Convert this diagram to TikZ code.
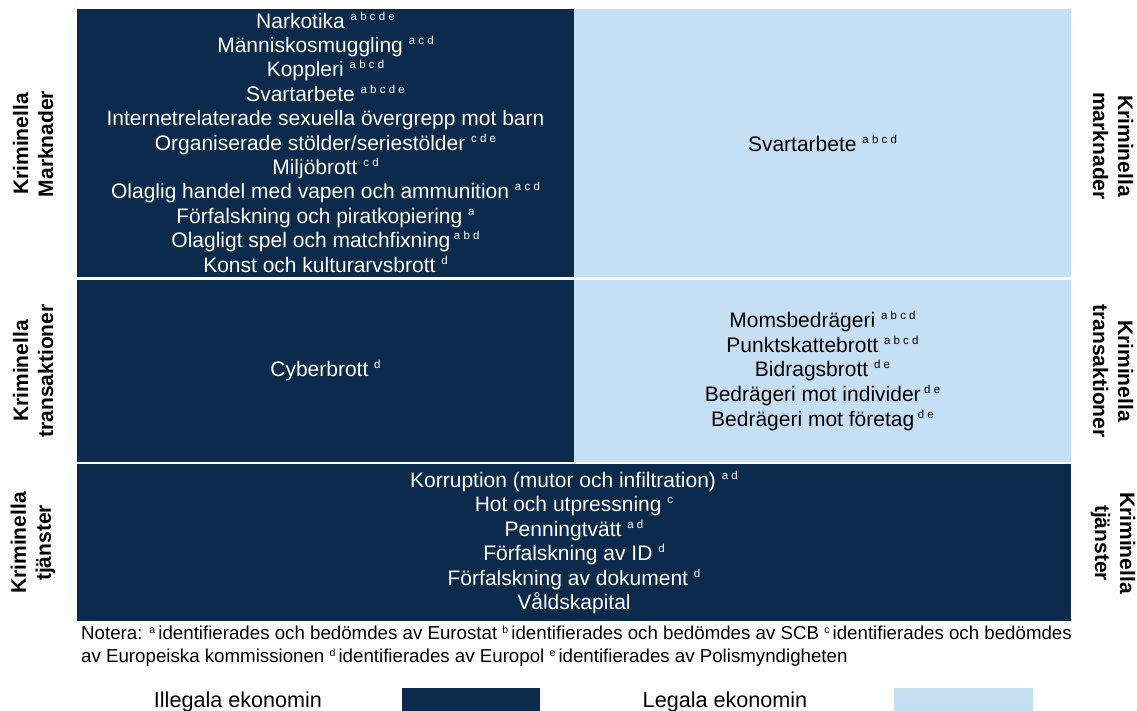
\documentclass[tikz,border=0pt]{standalone}
\usepackage{fontspec}
\setmainfont{Liberation Sans}
\definecolor{navy}{RGB}{12,42,76}
\definecolor{skyb}{RGB}{197,223,244}
\newcommand\sps[1]{\raisebox{8pt}{\fontsize{11.5}{11.5}\selectfont #1}}
\newcommand\nsps[1]{\raisebox{6.5pt}{\fontsize{10.5}{10.5}\selectfont #1}}
\begin{document}
\begin{tikzpicture}[x=1pt,y=-1pt,
  box/.style={inner sep=0pt, outer sep=0pt, draw=none},
  darkbox/.style={box, fill=navy},
  lightbox/.style={box, fill=skyb},
  wtxt/.style={inner sep=0pt, text=white, align=center, font=\fontsize{21}{24.4}\selectfont},
  btxt/.style={inner sep=0pt, text=black, align=center, font=\fontsize{21}{24.8}\selectfont},
  side/.style={inner sep=0pt, align=center, font=\bfseries\fontsize{21}{25}\selectfont},
  notetxt/.style={inner sep=0pt, anchor=base west, font=\fontsize{18.7}{22}\selectfont},
  legtxt/.style={inner sep=0pt, font=\fontsize{21.6}{24}\selectfont},
]
\useasboundingbox (0,0) rectangle (1137,711);
% boxes
\node[darkbox, minimum width=497pt, minimum height=268pt] (tlbox) at (325.5,143) {};
\node[lightbox, minimum width=497pt, minimum height=268pt] (trbox) at (822.5,143) {};
\node[darkbox, minimum width=497pt, minimum height=182pt] (mlbox) at (325.5,371) {};
\node[lightbox, minimum width=497pt, minimum height=182pt] (mrbox) at (822.5,371) {};
\node[darkbox, minimum width=994pt, minimum height=157pt] (bbox) at (574,542.5) {};
% texts
\node[wtxt] (tltxt) at ([yshift=1pt]tlbox.center) {Narkotika \sps{a b c d e}\\
Människosmuggling \sps{a c d}\\
Koppleri \sps{a b c d}\\
Svartarbete \sps{a b c d e}\\
Internetrelaterade sexuella övergrepp mot barn\\
Organiserade stölder/seriestölder \sps{c d e}\\
Miljöbrott \sps{c d}\\
Olaglig handel med vapen och ammunition \sps{a c d}\\
Förfalskning och piratkopiering \sps{a}\\
Olagligt spel och matchfixning\,\sps{a b d}\\
Konst och kulturarvsbrott \sps{d}};
\node[btxt] (trtxt) at (trbox.center) {Svartarbete \sps{a b c d}};
\node[wtxt] (mltxt) at (mlbox.center) {Cyberbrott \sps{d}};
\node[btxt] (mrtxt) at (mrbox.center) {Momsbedrägeri \sps{a b c d}\\
Punktskattebrott \sps{a b c d}\\
Bidragsbrott \sps{d e}\\
Bedrägeri mot individer\,\sps{d e}\\
Bedrägeri mot företag\,\sps{d e}};
\node[wtxt] (btxt) at (bbox.center) {Korruption (mutor och infiltration) \sps{a d}\\
Hot och utpressning \sps{c}\\
Penningtvätt \sps{a d}\\
Förfalskning av ID \sps{d}\\
Förfalskning av dokument \sps{d}\\
Våldskapital};
% side labels
\node[side, rotate=90] (l1) at (33,144) {Kriminella\\Marknader};
\node[side, rotate=90] (l2) at (33,371) {Kriminella\\transaktioner};
\node[side, rotate=90] (l3) at (33,543) {Kriminella\\tjänster};
\node[side, rotate=-90] (r1) at (1113,146) {Kriminella\\marknader};
\node[side, rotate=-90] (r2) at (1113,371) {Kriminella\\transaktioner};
\node[side, rotate=-90] (r3) at (1113,543) {Kriminella\\tjänster};
% note
\node[notetxt] (note1) at (81,639.5) {Notera: \nsps{a}\,identifierades och bedömdes av Eurostat \nsps{b}\,identifierades och bedömdes av SCB \nsps{c}\,identifierades och bedömdes};
\node[notetxt] (note2) at (81,662.5) {av Europeiska kommissionen \nsps{d}\,identifierades av Europol \nsps{e}\,identifierades av Polismyndigheten};
% legend
\node[legtxt] (leg1) at (238,702) {Illegala ekonomin};
\node[darkbox, minimum width=138pt, minimum height=24pt] (leg1box) at (471,700) {};
\node[legtxt] (leg2) at (725,702) {Legala ekonomin};
\node[lightbox, minimum width=139pt, minimum height=24pt] (leg2box) at (963.5,700) {};
\end{tikzpicture}
\end{document}
